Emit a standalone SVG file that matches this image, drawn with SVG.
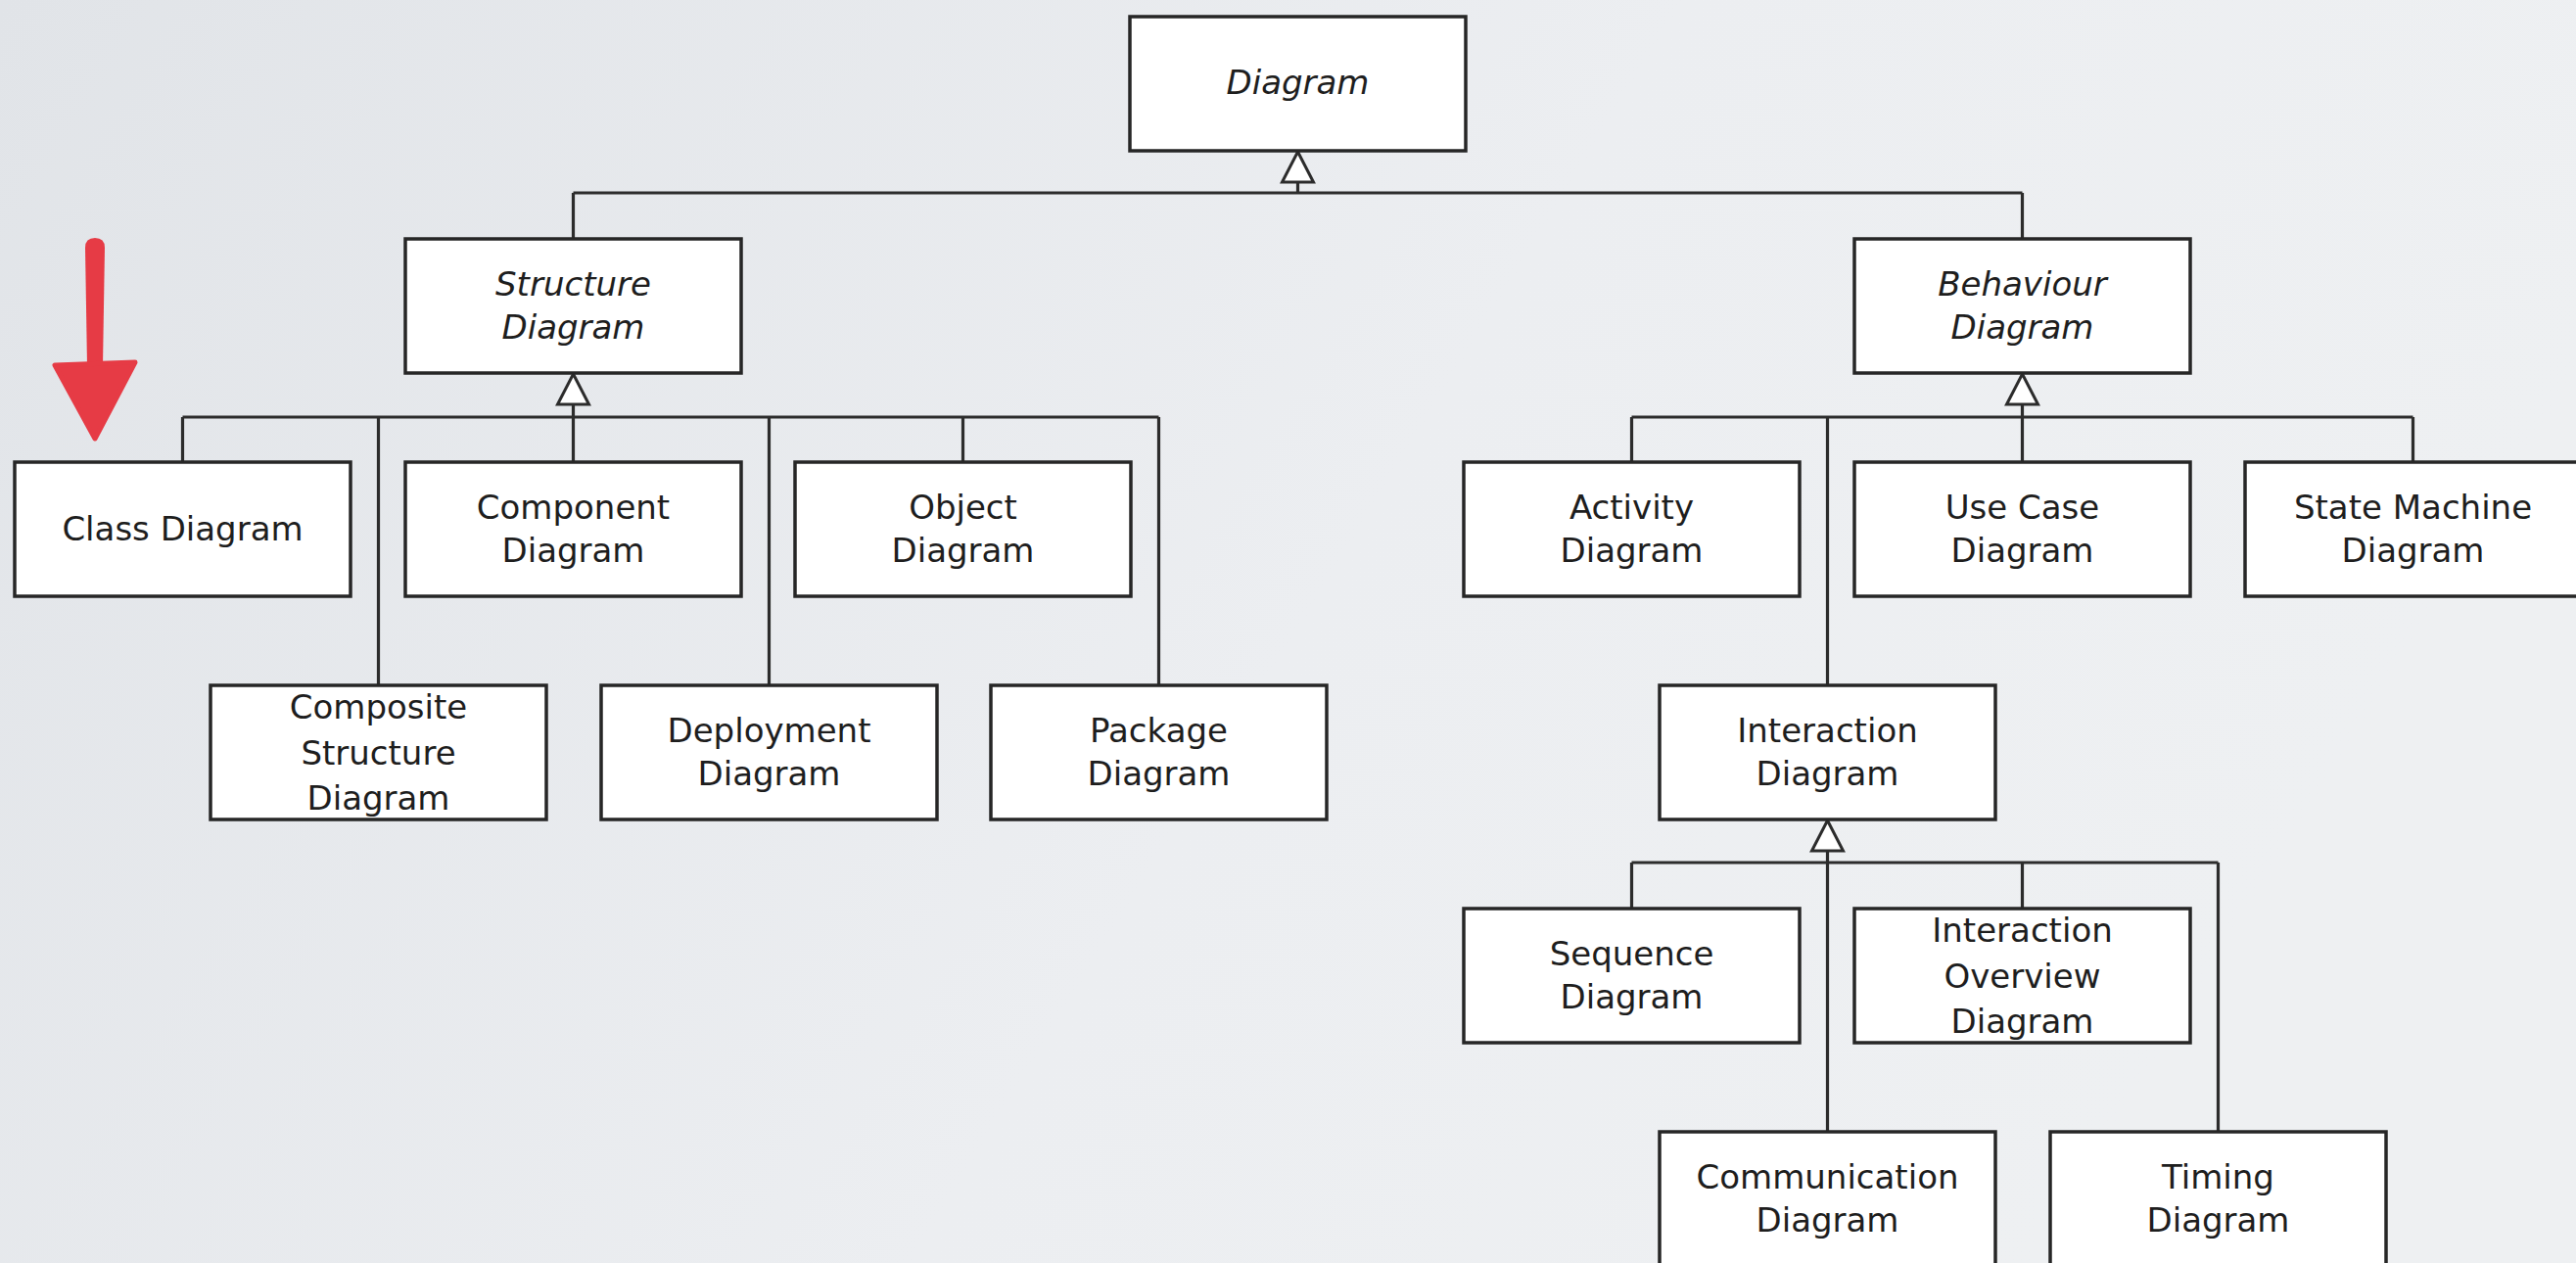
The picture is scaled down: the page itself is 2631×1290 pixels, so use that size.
<svg xmlns="http://www.w3.org/2000/svg" width="2631" height="1290" viewBox="0 0 2631 1290">
<defs>
<linearGradient id="bg" x1="0" y1="0" x2="1" y2="0.3">
<stop offset="0" stop-color="#e1e4e8"/>
<stop offset="0.6" stop-color="#eceef1"/>
<stop offset="1" stop-color="#eef0f2"/>
</linearGradient>
<style>
.box{fill:#ffffff;stroke:#262626;stroke-width:3.5}
.t{font-family:"DejaVu Sans","Liberation Sans",sans-serif;font-size:34px;fill:#1e1e1e;text-anchor:middle}
.i{font-style:italic}
.c{fill:none;stroke:#2c2c2c;stroke-width:3.2}
.h{fill:#ffffff;stroke:#2c2c2c;stroke-width:3;stroke-linejoin:miter}
</style>
</defs>
<rect width="2631" height="1290" fill="url(#bg)"/>

<g id="connectors">
<path class="c" d="M1325.5 186V197M585.5 197H2065.5M585.5 197V244M2065.5 197V244"/>
<path class="c" d="M585.5 413V472M186.5 426H1183.5M186.5 426V472M386.5 426V700M785.5 426V700M983.5 426V472M1183.5 426V700"/>
<path class="c" d="M2065.5 413V472M1666.5 426H2464.5M1666.5 426V472M1866.5 426V700M2464.5 426V472"/>
<path class="c" d="M1866.5 869V1156M1666.5 881H2265.5M1666.5 881V928M2065.5 881V928M2265.5 881V1156"/>
<path class="h" d="M1325.5 155L1341.5 186H1309.5Z"/>
<path class="h" d="M585.5 382L601.5 413H569.5Z"/>
<path class="h" d="M2065.5 382L2081.5 413H2049.5Z"/>
<path class="h" d="M1866.5 838L1882.5 869H1850.5Z"/>
</g>

<g id="diagram"><rect class="box" x="1154" y="17" width="343" height="137"/><text class="t i" x="1325.5" y="96">Diagram</text></g>
<g id="structure"><rect class="box" x="414" y="244" width="343" height="137"/><text class="t i" x="585.5" y="302">Structure</text><text class="t i" x="585.5" y="346">Diagram</text></g>
<g id="behaviour"><rect class="box" x="1894" y="244" width="343" height="137"/><text class="t i" x="2065.5" y="302">Behaviour</text><text class="t i" x="2065.5" y="346">Diagram</text></g>

<g id="class"><rect class="box" x="15" y="472" width="343" height="137"/><text class="t" x="186.5" y="552">Class Diagram</text></g>
<g id="component"><rect class="box" x="414" y="472" width="343" height="137"/><text class="t" x="585.5" y="530">Component</text><text class="t" x="585.5" y="574">Diagram</text></g>
<g id="object"><rect class="box" x="812" y="472" width="343" height="137"/><text class="t" x="983.5" y="530">Object</text><text class="t" x="983.5" y="574">Diagram</text></g>
<g id="activity"><rect class="box" x="1495" y="472" width="343" height="137"/><text class="t" x="1666.5" y="530">Activity</text><text class="t" x="1666.5" y="574">Diagram</text></g>
<g id="usecase"><rect class="box" x="1894" y="472" width="343" height="137"/><text class="t" x="2065.5" y="530">Use Case</text><text class="t" x="2065.5" y="574">Diagram</text></g>
<g id="statemachine"><rect class="box" x="2293" y="472" width="343" height="137"/><text class="t" x="2464.5" y="530">State Machine</text><text class="t" x="2464.5" y="574">Diagram</text></g>

<g id="composite"><rect class="box" x="215" y="700" width="343" height="137"/><text class="t" x="386.5" y="734">Composite</text><text class="t" x="386.5" y="781">Structure</text><text class="t" x="386.5" y="827">Diagram</text></g>
<g id="deployment"><rect class="box" x="614" y="700" width="343" height="137"/><text class="t" x="785.5" y="758">Deployment</text><text class="t" x="785.5" y="802">Diagram</text></g>
<g id="package"><rect class="box" x="1012" y="700" width="343" height="137"/><text class="t" x="1183.5" y="758">Package</text><text class="t" x="1183.5" y="802">Diagram</text></g>
<g id="interaction"><rect class="box" x="1695" y="700" width="343" height="137"/><text class="t" x="1866.5" y="758">Interaction</text><text class="t" x="1866.5" y="802">Diagram</text></g>

<g id="sequence"><rect class="box" x="1495" y="928" width="343" height="137"/><text class="t" x="1666.5" y="986">Sequence</text><text class="t" x="1666.5" y="1030">Diagram</text></g>
<g id="interactionoverview"><rect class="box" x="1894" y="928" width="343" height="137"/><text class="t" x="2065.5" y="962">Interaction</text><text class="t" x="2065.5" y="1009">Overview</text><text class="t" x="2065.5" y="1055">Diagram</text></g>

<g id="communication"><rect class="box" x="1695" y="1156" width="343" height="137"/><text class="t" x="1866.5" y="1214">Communication</text><text class="t" x="1866.5" y="1258">Diagram</text></g>
<g id="timing"><rect class="box" x="2094" y="1156" width="343" height="137"/><text class="t" x="2265.5" y="1214">Timing</text><text class="t" x="2265.5" y="1258">Diagram</text></g>

<g id="red-arrow">
<path d="M87 253Q87 243 97 243Q107 243 107 253L105 374H89Z" fill="#e63b45"/>
<path d="M56 373L138 370L97 448Z" fill="#e63b45" stroke="#e63b45" stroke-width="5" stroke-linejoin="round"/>
</g>
</svg>
